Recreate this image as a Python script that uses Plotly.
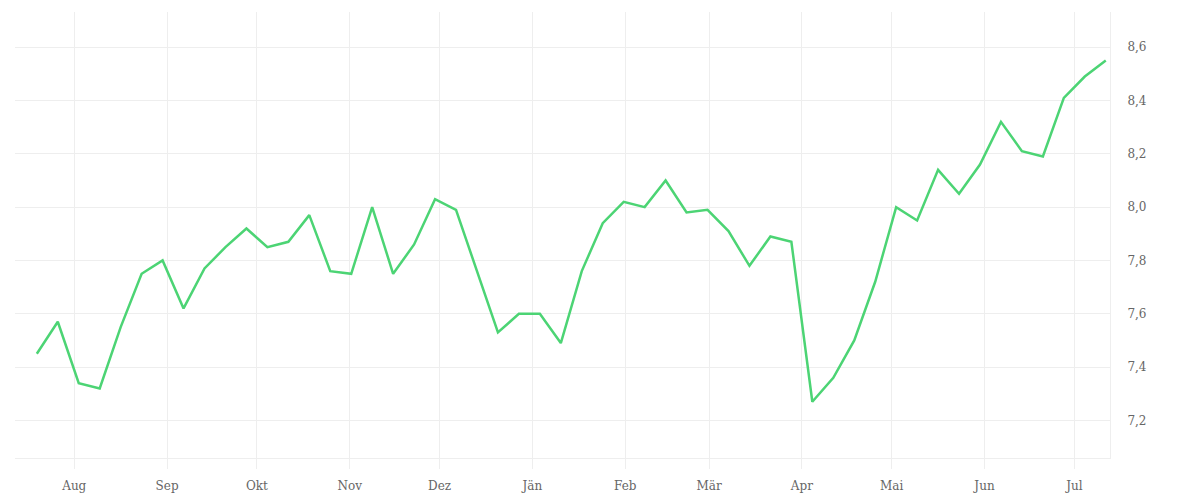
import pandas as pd
import plotly.graph_objects as go

# weekly dates (Jul 2022 - Jul 2023)
week_start = "2022-07-19 12:00"
n_weeks = 52
dates = pd.date_range(week_start, periods=n_weeks, freq="7D")

values = [
    7.45, 7.57, 7.34, 7.32, 7.55, 7.75, 7.80, 7.62, 7.77, 7.85,
    7.92, 7.85, 7.87, 7.97, 7.76, 7.75, 8.00, 7.75, 7.86, 8.03,
    7.99, 7.76, 7.53, 7.60, 7.60, 7.49, 7.76, 7.94, 8.02, 8.00,
    8.10, 7.98, 7.99, 7.91, 7.78, 7.89, 7.87, 7.27, 7.36, 7.50,
    7.72, 8.00, 7.95, 8.14, 8.05, 8.16, 8.32, 8.21, 8.19, 8.41,
    8.49, 8.55,
]

month_ticks = ["2022-08-01", "2022-09-01", "2022-10-01", "2022-11-01", "2022-12-01",
               "2023-01-01", "2023-02-01", "2023-03-01", "2023-04-01", "2023-05-01",
               "2023-06-01", "2023-07-01"]
month_labels = ["Aug", "Sep", "Okt", "Nov", "Dez", "Jän", "Feb", "Mär", "Apr", "Mai", "Jun", "Jul"]

y_ticks = [7.2, 7.4, 7.6, 7.8, 8.0, 8.2, 8.4, 8.6]

grid = "#eeeeee"
font_family = "DejaVu Serif"

fig = go.Figure()
fig.add_trace(go.Scatter(
    x=dates, y=values, mode="lines",
    line=dict(color="#4cd474", width=2.5),
    hoverinfo="skip", showlegend=False,
))

fig.update_layout(
    width=1192, height=492,
    margin=dict(l=7, r=90, t=4, b=42),
    paper_bgcolor="white", plot_bgcolor="white",
    separators=",.",
    font=dict(family=font_family, size=12, color="#666666"),
    xaxis=dict(
        range=["2022-07-12 05:00", "2023-07-12 22:00"],
        tickvals=month_ticks, ticktext=month_labels,
        showgrid=True, gridcolor=grid, gridwidth=1,
        ticks="outside", ticklen=10, tickcolor=grid,
        showline=True, linecolor=grid, linewidth=1,
        zeroline=False,
        ticklabelstandoff=7,
    ),
    yaxis=dict(
        range=[7.059, 8.732], side="right",
        tickvals=y_ticks, tickformat=".1f",
        showgrid=True, gridcolor=grid, gridwidth=1,
        showline=True, linecolor=grid, linewidth=1,
        ticks="outside", ticklen=14, tickcolor="rgba(0,0,0,0)",
        zeroline=False,
    ),
)

fig.write_html("out.html")
